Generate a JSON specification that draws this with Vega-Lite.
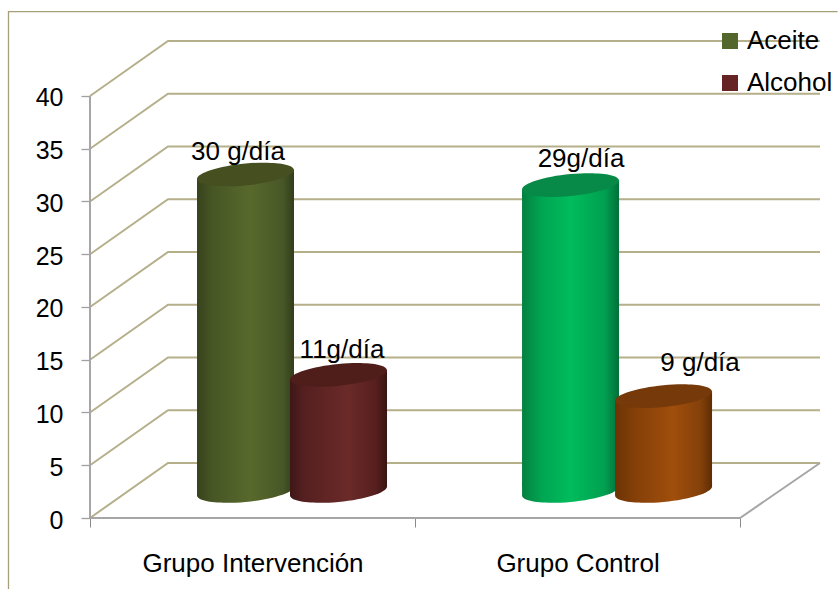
{
"$schema":"https://vega.github.io/schema/vega-lite/v6.json",
"width":730,"height":477,
"autosize":"none",
"padding":{"left":90,"top":41,"right":18,"bottom":71},
"background":"white",
"config":{"view":{"stroke":null},"font":"Liberation Sans",
"axisY":{"domain":false,"grid":false,"tickColor":"#a0a0a0","tickWidth":1.3,"tickSize":9,"labelFontSize":25,"labelColor":"#000000","labelPadding":18,"labelOffset":2,"labelFont":"Liberation Sans"}},
"datasets":{
"consumo":[
{"grupo":"Grupo Intervención","sustancia":"Aceite","gramos":30,"etiqueta":"30 g/día"},
{"grupo":"Grupo Intervención","sustancia":"Alcohol","gramos":11,"etiqueta":"11g/día"},
{"grupo":"Grupo Control","sustancia":"Aceite","gramos":29,"etiqueta":"29g/día"},
{"grupo":"Grupo Control","sustancia":"Alcohol","gramos":9,"etiqueta":"9 g/día"}
],
"rejilla":[
{"linea":0,"px":0,"py":0},{"linea":0,"px":0.24,"py":5.21},{"linea":0,"px":2.246,"py":5.21},
{"linea":5,"px":0,"py":5},{"linea":5,"px":0.24,"py":10.21},{"linea":5,"px":2.246,"py":10.21},
{"linea":10,"px":0,"py":10},{"linea":10,"px":0.24,"py":15.21},{"linea":10,"px":2.246,"py":15.21},
{"linea":15,"px":0,"py":15},{"linea":15,"px":0.24,"py":20.21},{"linea":15,"px":2.246,"py":20.21},
{"linea":20,"px":0,"py":20},{"linea":20,"px":0.24,"py":25.21},{"linea":20,"px":2.246,"py":25.21},
{"linea":25,"px":0,"py":25},{"linea":25,"px":0.24,"py":30.21},{"linea":25,"px":2.246,"py":30.21},
{"linea":30,"px":0,"py":30},{"linea":30,"px":0.24,"py":35.21},{"linea":30,"px":2.246,"py":35.21},
{"linea":35,"px":0,"py":35},{"linea":35,"px":0.24,"py":40.21},{"linea":35,"px":2.246,"py":40.21},
{"linea":40,"px":0,"py":40},{"linea":40,"px":0.24,"py":45.21},{"linea":40,"px":2.246,"py":45.21}
],
"bordes":[
{"linea":"eje","n":1,"px":0,"py":0},{"linea":"eje","n":2,"px":0,"py":40},
{"linea":"suelo","n":1,"px":0,"py":0},{"linea":"suelo","n":2,"px":2,"py":0},{"linea":"suelo","n":3,"px":2.246,"py":5.21}
],
"marco":[{"n":1,"px":-0.2508,"py":-6.73},{"n":2,"px":-0.2508,"py":48},{"n":3,"px":2.3,"py":48}]
},
"layer":[
{
"encoding":{"x":{"field":"px","type":"quantitative","scale":{"domain":[0,2.246],"zero":false,"nice":false},"axis":null}},
"layer":[
{"data":{"name":"marco"},"mark":{"type":"line","color":"#a5a07a","strokeWidth":1.3},
"encoding":{"y":{"field":"py","type":"quantitative","axis":{"title":null}},"order":{"field":"n"}}},
{"data":{"name":"rejilla"},"mark":{"type":"line","color":"#b5af8a","strokeWidth":2},
"encoding":{"y":{"field":"py","type":"quantitative","scale":{"domain":[0,45.21],"zero":false,"nice":false},
"axis":{"title":null,"values":[0,5,10,15,20,25,30,35,40]}},
"detail":{"field":"linea"}}},
{"data":{"name":"bordes"},"mark":{"type":"line","color":"#a6a6a6","strokeWidth":2},
"encoding":{"y":{"field":"py","type":"quantitative","axis":{"title":null}},"detail":{"field":"linea"},"order":{"field":"n"}}}
]
},
{
"data":{"name":"consumo"},
"encoding":{"x":{"field":"grupo","type":"nominal","sort":null,
"scale":{"type":"band","domain":["Grupo Intervención","Grupo Control"],"paddingInner":0,"paddingOuter":0.123,"align":0},
"axis":{"title":null,"tickBand":"extent","domain":false,"labelAngle":0,"tickColor":"#8a8a8a","tickWidth":1,"tickSize":9,"labelFontSize":26,"labelColor":"#000000","labelPadding":23,"labelFont":"Liberation Sans","labelLimit":400}}},
"layer":[
{"mark":{"type":"point","filled":true,"size":0},
"encoding":{"y":{"datum":0,"type":"quantitative","axis":{"title":null}},
"color":{"field":"sustancia","type":"nominal","scale":{"domain":["Aceite","Alcohol"],"range":["#53662b","#652423"]},
"legend":{"title":null,"orient":"none","legendX":627,"legendY":-13,"padding":0,"symbolType":"square","symbolSize":256,"symbolOpacity":1,"symbolStrokeWidth":0,"labelFontSize":26,"labelColor":"#000000","labelOffset":4,"rowPadding":16,"labelLimit":200,"labelFont":"Liberation Sans"}}}},
{"transform":[{"filter":"datum.grupo==='Grupo Intervención'&&datum.sustancia==='Aceite'"}],
"layer":[
{"mark":{"type":"bar","width":97,"xOffset":-7,"yOffset":-22,"y2Offset":-32,"fill":{"gradient":"linear","x1":0,"x2":1,"y1":0,"y2":0,"stops":[{"offset":0,"color":"#36421d"},{"offset":0.15,"color":"#465524"},{"offset":0.55,"color":"#58692c"},{"offset":0.88,"color":"#485727"},{"offset":1,"color":"#333d1a"}]}},"encoding":{"y":{"field":"gramos","type":"quantitative","axis":{"title":null}},"y2":{"datum":0}}},
{"mark":{"type":"point","filled":true,"opacity":1,"size":9409,"xOffset":-7,"yOffset":-27,"shape":"M1,-0.095 C1,0.0293 0.5523,0.1725 0,0.225 C-0.5523,0.2775 -1,0.2193 -1,0.095 L-1,-0.2 L1,-0.2 Z","fill":{"gradient":"linear","x1":0,"x2":1,"y1":0,"y2":0,"stops":[{"offset":0,"color":"#36421d"},{"offset":0.15,"color":"#465524"},{"offset":0.55,"color":"#58692c"},{"offset":0.88,"color":"#485727"},{"offset":1,"color":"#333d1a"}]}},"encoding":{"y":{"datum":0,"type":"quantitative","axis":{"title":null}}}},
{"mark":{"type":"point","filled":true,"opacity":1,"size":9409,"xOffset":-7,"yOffset":-27,"shape":"M1,-0.095 L1,0.25 L-1,0.25 L-1,0.095 Z","fill":{"gradient":"linear","x1":0,"x2":1,"y1":0,"y2":0,"stops":[{"offset":0,"color":"#36421d"},{"offset":0.15,"color":"#465524"},{"offset":0.55,"color":"#58692c"},{"offset":0.88,"color":"#485727"},{"offset":1,"color":"#333d1a"}]}},"encoding":{"y":{"field":"gramos","type":"quantitative","axis":{"title":null}}}},
{"mark":{"type":"point","filled":true,"opacity":1,"size":9409,"xOffset":-7,"yOffset":-27,"color":"#454f20","shape":"M1,-0.095 C1,0.0293 0.5523,0.1725 0,0.225 C-0.5523,0.2775 -1,0.2193 -1,0.095 C-1,-0.0293 -0.5523,-0.1725 0,-0.225 C0.5523,-0.2775 1,-0.2193 1,-0.095 Z"},"encoding":{"y":{"field":"gramos","type":"quantitative","axis":{"title":null}}}}
]},
{"transform":[{"filter":"datum.grupo==='Grupo Intervención'&&datum.sustancia==='Alcohol'"}],
"layer":[
{"mark":{"type":"bar","width":97,"xOffset":86,"yOffset":-22,"y2Offset":-32,"fill":{"gradient":"linear","x1":0,"x2":1,"y1":0,"y2":0,"stops":[{"offset":0,"color":"#3e1717"},{"offset":0.15,"color":"#562020"},{"offset":0.6,"color":"#6a2a28"},{"offset":0.88,"color":"#571f1f"},{"offset":1,"color":"#3a1412"}]}},"encoding":{"y":{"field":"gramos","type":"quantitative","axis":{"title":null}},"y2":{"datum":0}}},
{"mark":{"type":"point","filled":true,"opacity":1,"size":9409,"xOffset":86,"yOffset":-27,"shape":"M1,-0.095 C1,0.0293 0.5523,0.1725 0,0.225 C-0.5523,0.2775 -1,0.2193 -1,0.095 L-1,-0.2 L1,-0.2 Z","fill":{"gradient":"linear","x1":0,"x2":1,"y1":0,"y2":0,"stops":[{"offset":0,"color":"#3e1717"},{"offset":0.15,"color":"#562020"},{"offset":0.6,"color":"#6a2a28"},{"offset":0.88,"color":"#571f1f"},{"offset":1,"color":"#3a1412"}]}},"encoding":{"y":{"datum":0,"type":"quantitative","axis":{"title":null}}}},
{"mark":{"type":"point","filled":true,"opacity":1,"size":9409,"xOffset":86,"yOffset":-27,"shape":"M1,-0.095 L1,0.25 L-1,0.25 L-1,0.095 Z","fill":{"gradient":"linear","x1":0,"x2":1,"y1":0,"y2":0,"stops":[{"offset":0,"color":"#3e1717"},{"offset":0.15,"color":"#562020"},{"offset":0.6,"color":"#6a2a28"},{"offset":0.88,"color":"#571f1f"},{"offset":1,"color":"#3a1412"}]}},"encoding":{"y":{"field":"gramos","type":"quantitative","axis":{"title":null}}}},
{"mark":{"type":"point","filled":true,"opacity":1,"size":9409,"xOffset":86,"yOffset":-27,"color":"#4f1e1a","shape":"M1,-0.095 C1,0.0293 0.5523,0.1725 0,0.225 C-0.5523,0.2775 -1,0.2193 -1,0.095 C-1,-0.0293 -0.5523,-0.1725 0,-0.225 C0.5523,-0.2775 1,-0.2193 1,-0.095 Z"},"encoding":{"y":{"field":"gramos","type":"quantitative","axis":{"title":null}}}}
]},
{"transform":[{"filter":"datum.grupo==='Grupo Control'&&datum.sustancia==='Aceite'"}],
"layer":[
{"mark":{"type":"bar","width":97,"xOffset":-7,"yOffset":-22,"y2Offset":-32,"fill":{"gradient":"linear","x1":0,"x2":1,"y1":0,"y2":0,"stops":[{"offset":0,"color":"#058040"},{"offset":0.2,"color":"#00a552"},{"offset":0.5,"color":"#00bc5c"},{"offset":0.85,"color":"#00a050"},{"offset":1,"color":"#02703a"}]}},"encoding":{"y":{"field":"gramos","type":"quantitative","axis":{"title":null}},"y2":{"datum":0}}},
{"mark":{"type":"point","filled":true,"opacity":1,"size":9409,"xOffset":-7,"yOffset":-27,"shape":"M1,-0.095 C1,0.0293 0.5523,0.1725 0,0.225 C-0.5523,0.2775 -1,0.2193 -1,0.095 L-1,-0.2 L1,-0.2 Z","fill":{"gradient":"linear","x1":0,"x2":1,"y1":0,"y2":0,"stops":[{"offset":0,"color":"#058040"},{"offset":0.2,"color":"#00a552"},{"offset":0.5,"color":"#00bc5c"},{"offset":0.85,"color":"#00a050"},{"offset":1,"color":"#02703a"}]}},"encoding":{"y":{"datum":0,"type":"quantitative","axis":{"title":null}}}},
{"mark":{"type":"point","filled":true,"opacity":1,"size":9409,"xOffset":-7,"yOffset":-27,"shape":"M1,-0.095 L1,0.25 L-1,0.25 L-1,0.095 Z","fill":{"gradient":"linear","x1":0,"x2":1,"y1":0,"y2":0,"stops":[{"offset":0,"color":"#058040"},{"offset":0.2,"color":"#00a552"},{"offset":0.5,"color":"#00bc5c"},{"offset":0.85,"color":"#00a050"},{"offset":1,"color":"#02703a"}]}},"encoding":{"y":{"field":"gramos","type":"quantitative","axis":{"title":null}}}},
{"mark":{"type":"point","filled":true,"opacity":1,"size":9409,"xOffset":-7,"yOffset":-27,"color":"#078a47","shape":"M1,-0.095 C1,0.0293 0.5523,0.1725 0,0.225 C-0.5523,0.2775 -1,0.2193 -1,0.095 C-1,-0.0293 -0.5523,-0.1725 0,-0.225 C0.5523,-0.2775 1,-0.2193 1,-0.095 Z"},"encoding":{"y":{"field":"gramos","type":"quantitative","axis":{"title":null}}}}
]},
{"transform":[{"filter":"datum.grupo==='Grupo Control'&&datum.sustancia==='Alcohol'"}],
"layer":[
{"mark":{"type":"bar","width":97,"xOffset":86,"yOffset":-22,"y2Offset":-32,"fill":{"gradient":"linear","x1":0,"x2":1,"y1":0,"y2":0,"stops":[{"offset":0,"color":"#6b3404"},{"offset":0.2,"color":"#843f08"},{"offset":0.6,"color":"#a04e0c"},{"offset":0.88,"color":"#84410a"},{"offset":1,"color":"#5e2d04"}]}},"encoding":{"y":{"field":"gramos","type":"quantitative","axis":{"title":null}},"y2":{"datum":0}}},
{"mark":{"type":"point","filled":true,"opacity":1,"size":9409,"xOffset":86,"yOffset":-27,"shape":"M1,-0.095 C1,0.0293 0.5523,0.1725 0,0.225 C-0.5523,0.2775 -1,0.2193 -1,0.095 L-1,-0.2 L1,-0.2 Z","fill":{"gradient":"linear","x1":0,"x2":1,"y1":0,"y2":0,"stops":[{"offset":0,"color":"#6b3404"},{"offset":0.2,"color":"#843f08"},{"offset":0.6,"color":"#a04e0c"},{"offset":0.88,"color":"#84410a"},{"offset":1,"color":"#5e2d04"}]}},"encoding":{"y":{"datum":0,"type":"quantitative","axis":{"title":null}}}},
{"mark":{"type":"point","filled":true,"opacity":1,"size":9409,"xOffset":86,"yOffset":-27,"shape":"M1,-0.095 L1,0.25 L-1,0.25 L-1,0.095 Z","fill":{"gradient":"linear","x1":0,"x2":1,"y1":0,"y2":0,"stops":[{"offset":0,"color":"#6b3404"},{"offset":0.2,"color":"#843f08"},{"offset":0.6,"color":"#a04e0c"},{"offset":0.88,"color":"#84410a"},{"offset":1,"color":"#5e2d04"}]}},"encoding":{"y":{"field":"gramos","type":"quantitative","axis":{"title":null}}}},
{"mark":{"type":"point","filled":true,"opacity":1,"size":9409,"xOffset":86,"yOffset":-27,"color":"#76390a","shape":"M1,-0.095 C1,0.0293 0.5523,0.1725 0,0.225 C-0.5523,0.2775 -1,0.2193 -1,0.095 C-1,-0.0293 -0.5523,-0.1725 0,-0.225 C0.5523,-0.2775 1,-0.2193 1,-0.095 Z"},"encoding":{"y":{"field":"gramos","type":"quantitative","axis":{"title":null}}}}
]},
{"transform":[{"filter":"datum.gramos===30"}],"mark":{"type":"text","fontSize":26,"color":"#000000","align":"center","baseline":"alphabetic","xOffset":-14.5,"yOffset":-41},"encoding":{"y":{"field":"gramos","type":"quantitative","axis":{"title":null}},"text":{"field":"etiqueta"}}},
{"transform":[{"filter":"datum.gramos===11"}],"mark":{"type":"text","fontSize":26,"color":"#000000","align":"center","baseline":"alphabetic","xOffset":89.5,"yOffset":-44},"encoding":{"y":{"field":"gramos","type":"quantitative","axis":{"title":null}},"text":{"field":"etiqueta"}}},
{"transform":[{"filter":"datum.gramos===29"}],"mark":{"type":"text","fontSize":26,"color":"#000000","align":"center","baseline":"alphabetic","xOffset":3.5,"yOffset":-45},"encoding":{"y":{"field":"gramos","type":"quantitative","axis":{"title":null}},"text":{"field":"etiqueta"}}},
{"transform":[{"filter":"datum.gramos===9"}],"mark":{"type":"text","fontSize":26,"color":"#000000","align":"center","baseline":"alphabetic","xOffset":122.5,"yOffset":-52},"encoding":{"y":{"field":"gramos","type":"quantitative","axis":{"title":null}},"text":{"field":"etiqueta"}}}
]
}
],
"resolve":{"scale":{"x":"independent"}}
}
